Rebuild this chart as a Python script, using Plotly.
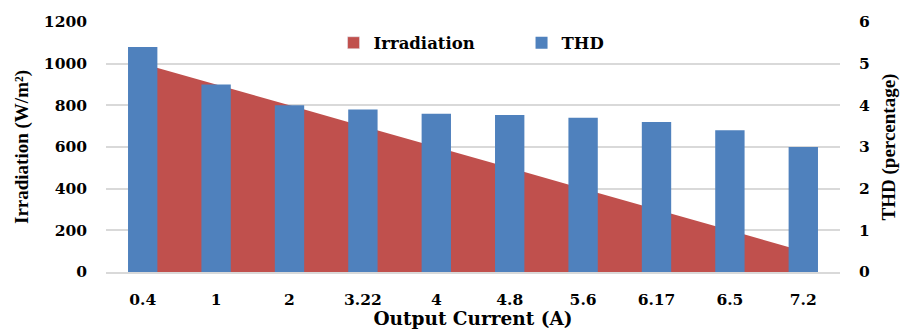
import plotly.graph_objects as go

# Output current categories and measured values
currents = ["0.4", "1", "2", "3.22", "4", "4.8", "5.6", "6.17", "6.5", "7.2"]
irradiation = [1000, 900, 800, 700, 600, 500, 400, 300, 200, 100]
thd = [5.4, 4.5, 4.0, 3.9, 3.8, 3.77, 3.7, 3.6, 3.4, 3.0]

RED = "#C0504D"
BLUE = "#4F81BD"
GRID = "#D9D9D9"
TICK_FONT = dict(family="DejaVu Serif", size=15.5, color="black", weight="bold")
TITLE_FONT = dict(family="Liberation Serif", size=19, color="black", weight="bold")

fig = go.Figure()

# Irradiation as a filled area on the left axis
fig.add_trace(go.Scatter(
    x=currents, y=irradiation, name="Irradiation",
    mode="none", fill="tozeroy", fillcolor=RED,
    yaxis="y", showlegend=False,
))
# Legend swatch for the area series
fig.add_trace(go.Bar(
    x=[None], y=[None], name="Irradiation",
    marker=dict(color=RED), yaxis="y", showlegend=True,
))
# THD as columns on the right axis
fig.add_trace(go.Bar(
    x=currents, y=thd, name="THD",
    marker=dict(color=BLUE, line=dict(width=0)), yaxis="y2",
))

fig.update_layout(
    width=902, height=329,
    margin=dict(l=106, r=62, t=22, b=57),
    paper_bgcolor="white", plot_bgcolor="white",
    barmode="overlay", bargap=0.6,
    xaxis=dict(
        type="category",
        showgrid=False, showline=True, linecolor=GRID, linewidth=2,
        ticks="", tickfont=TICK_FONT, ticklabelstandoff=12,
        title=dict(text="Output Current (A)",
                   font=dict(family="DejaVu Serif", size=18.5, color="black", weight="bold"),
                   standoff=8),
        automargin=False,
    ),
    yaxis=dict(
        range=[0, 1200], tickvals=[0, 200, 400, 600, 800, 1000, 1200],
        showgrid=True, gridcolor=GRID, gridwidth=2, zeroline=False,
        showline=False, ticks="", tickfont=TICK_FONT, ticklabelstandoff=18,
        title=dict(text="Irradiation (W/m²)", font=TITLE_FONT, standoff=10),
        automargin=False,
    ),
    yaxis2=dict(
        range=[0, 6], tickvals=[0, 1, 2, 3, 4, 5, 6],
        overlaying="y", side="right",
        showgrid=False, zeroline=False, showline=False, ticks="",
        tickfont=TICK_FONT, ticklabelstandoff=18,
        title=dict(text="THD (percentage)", font=TITLE_FONT, standoff=12),
        automargin=False,
    ),
    legend=dict(
        orientation="h", x=0.31, y=0.916, xanchor="left", yanchor="middle",
        font=dict(family="DejaVu Serif", size=16.5, color="black", weight="bold"),
        bgcolor="rgba(0,0,0,0)", entrywidth=143, entrywidthmode="pixels",
        traceorder="normal",
    ),
)

fig.write_html("out.html")
